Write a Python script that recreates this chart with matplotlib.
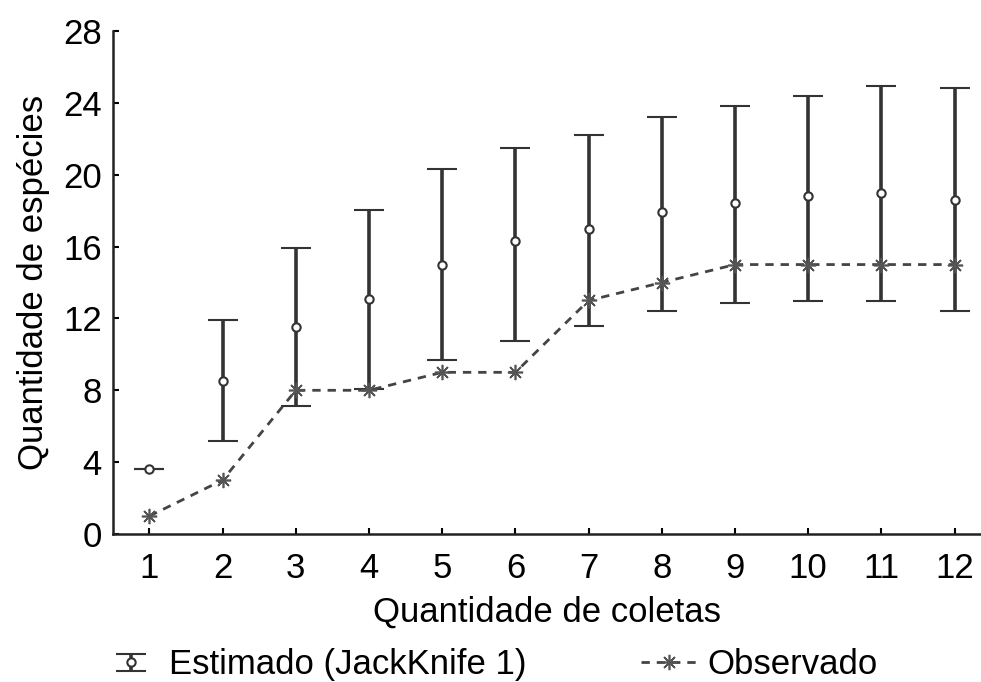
import numpy as np
import matplotlib.pyplot as plt
from matplotlib.legend_handler import HandlerErrorbar

# data
coletas = [1, 2, 3, 4, 5, 6, 7, 8, 9, 10, 11, 12]
estimado = [3.6, 8.5, 11.5, 13.1, 15.0, 16.3, 17.0, 17.9, 18.4, 18.8, 19.0, 18.6]
est_sup = [3.6, 11.9, 15.9, 18.05, 20.3, 21.5, 22.2, 23.2, 23.8, 24.4, 24.95, 24.85]
est_inf = [3.6, 5.2, 7.1, 8.1, 9.7, 10.75, 11.6, 12.4, 12.85, 12.95, 12.95, 12.4]
observado = [1, 3, 8, 8, 9, 9, 13, 14, 15, 15, 15, 15]
yticks = [0, 4, 8, 12, 16, 20, 24, 28]

plt.rcParams["font.family"] = ["Liberation Sans", "DejaVu Sans"]

fig = plt.figure(figsize=(9.81, 6.82), dpi=100)
ax = fig.add_axes([0.115, 0.217, 0.885, 0.7375])

est = np.array(estimado)
yerr = [est - np.array(est_inf), np.array(est_sup) - est]

eb = ax.errorbar(coletas, estimado, yerr=yerr, fmt="o", color="#333333",
                 ecolor="#333333", elinewidth=2.6, capsize=11, capthick=2.6,
                 markersize=6, markerfacecolor="white", markeredgecolor="#333333",
                 markeredgewidth=1.5, label="Estimado (JackKnife 1)", zorder=3)
obs, = ax.plot(coletas, observado, linestyle=(0, (3, 2.5)), color="#444444", lw=2,
               marker=(8, 2, 0), markersize=11, markeredgewidth=1.2,
               markeredgecolor="#555555", label="Observado", zorder=4)

ax.set_xlim(0.5, 12.36)
ax.set_ylim(0, 28)
ax.set_xticks(coletas)
ax.set_yticks(yticks)
ax.tick_params(direction="in", length=4, width=1.5, labelsize=25)
ax.tick_params(axis="x", pad=13)
ax.tick_params(axis="y", pad=8)
for s in ["top", "right"]:
    ax.spines[s].set_visible(False)
for s in ["left", "bottom"]:
    ax.spines[s].set_linewidth(1.8)
    ax.spines[s].set_color("#222222")

ax.set_xlabel("Quantidade de coletas", fontsize=25, labelpad=8)
ax.set_ylabel("Quantidade de espécies", fontsize=25, labelpad=9)

fig.legend(handles=[eb, obs], loc="center left", bbox_to_anchor=(0.105, 0.025),
           ncol=2, frameon=False, fontsize=25, borderpad=0, borderaxespad=0,
           columnspacing=3.3, handlelength=1.6, handletextpad=0.3,
           handler_map={type(eb): HandlerErrorbar(yerr_size=0.25)})

fig.savefig("out.png", dpi=100)
